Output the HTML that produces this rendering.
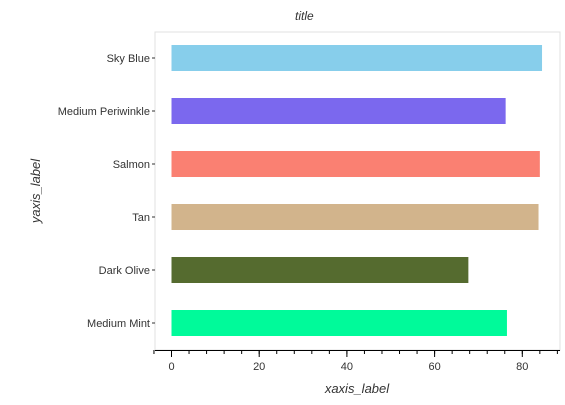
<!DOCTYPE html>
<html><head><meta charset="utf-8"><style>
body{margin:0;background:#fff;font-family:"Liberation Sans",sans-serif}
</style></head><body>
<svg id="c" width="565" height="400" xmlns="http://www.w3.org/2000/svg">
<rect x="155" y="32" width="405" height="318" fill="none" stroke="#e0e0e0"/>
<text x="295" y="20" font-size="12" font-style="italic" fill="#333">title</text>
<text x="357" y="393" font-size="13" font-style="italic" text-anchor="middle" fill="#333">xaxis_label</text>
<text transform="translate(40,191) rotate(-90)" font-size="13" font-style="italic" text-anchor="middle" fill="#333">yaxis_label</text>
<g id="g"></g>
</svg>
<script>
const categories=["Medium Mint","Dark Olive","Tan","Salmon","Medium Periwinkle","Sky Blue"];
const values=[76.5,67.7,83.7,84.0,76.2,84.5];
const colors=["#00fa9a","#556b2f","#d2b48c","#fa8072","#7b68ee","#87ceeb"];
const ticks=[0,20,40,60,80];
const ns="http://www.w3.org/2000/svg",g=document.getElementById('g');
const x=v=>171.5+v*4.385;
const y=i=>323-i*53;
function mk(t,a){const e=document.createElementNS(ns,t);for(const k in a)e.setAttribute(k,a[k]);g.appendChild(e);return e;}
categories.forEach((c,i)=>{
 const r=mk('rect',{x:x(0),y:y(i)-13,width:x(values[i])-x(0),height:26,fill:colors[i]});
 
 
 const t=mk('text',{x:150,y:y(i)+4,'font-size':11,'text-anchor':'end',fill:'#333'});t.textContent=c;
 
 
 const k=mk('line',{x1:152,x2:155,y1:y(i),y2:y(i),stroke:'#333'});
 
 
});
const ax=mk('line',{x1:155,x2:560,y1:350.5,y2:350.5,stroke:'#000','stroke-width':1});


for(let v=-4;v<=88;v+=4){const l=mk('line',{x1:x(v),x2:x(v),y1:350,y2:354,stroke:'#000'});
 
 }
ticks.forEach(v=>{const l=mk('line',{x1:x(v),x2:x(v),y1:350,y2:357,stroke:'#000'});
 
 
 const t=mk('text',{x:x(v),y:370,'font-size':11,'text-anchor':'middle',fill:'#333'});t.textContent=v;
 
 });
</script>
</body></html>
